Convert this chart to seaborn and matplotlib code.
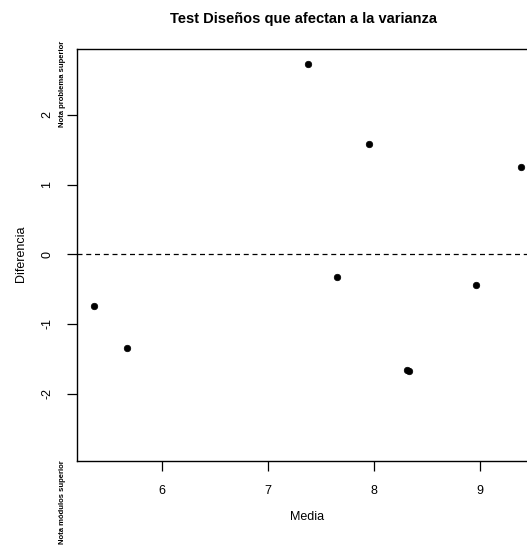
import matplotlib
matplotlib.use("Agg")
import matplotlib.pyplot as plt
import seaborn as sns
import pandas as pd

# values
media = [5.364, 5.670, 7.380, 7.657, 7.953, 8.320, 8.330, 8.965, 9.390]
diferencia = [-0.742, -1.349, 2.730, -0.326, 1.587, -1.660, -1.668, -0.436, 1.252]
xticks = [6, 7, 8, 9]
yticks = [-2, -1, 0, 1, 2]
label_top = "Nota problema superior"
label_bottom = "Nota módulos superior"

sns.set_style("white")
plt.rcParams["font.family"] = ["Liberation Sans", "DejaVu Sans"]
plt.rcParams["text.color"] = "black"

df = pd.DataFrame({"Media": media, "Diferencia": diferencia})

fig = plt.figure(figsize=(5.27, 5.46), dpi=100)
ax = fig.add_axes([77/527, 1-461/546, (538-77)/527, (461-49)/546])

sns.scatterplot(data=df, x="Media", y="Diferencia", ax=ax, color="black",
                s=22, edgecolor="black", linewidth=0.5)
ax.axhline(0, color="black", linestyle=(0, (4, 3)), linewidth=0.9)

ax.set_xlim(5.203, 9.551)
ax.set_ylim(-2.966, 2.945)
ax.set_xticks(xticks)
ax.set_yticks(yticks)
ax.set_yticklabels([str(v) for v in yticks], rotation=90, va="center")
ax.tick_params(direction="out", length=7, width=0.9, labelsize=9,
               color="black", labelcolor="black", left=True, bottom=True)
ax.tick_params(axis="x", pad=10)
ax.tick_params(axis="y", pad=10)
for sp in ax.spines.values():
    sp.set_color("black")
    sp.set_linewidth(1.0)
    sp.set_clip_on(False)

ax.set_xlabel("")
ax.set_ylabel("")
fig.text(307.5/527, 1-517/546, "Media", ha="center", va="center", fontsize=9)
fig.text(21/527, 1-254/546, "Diferencia", ha="center", va="center",
         rotation=90, fontsize=9)
fig.text(304/527, 1-18.5/546, "Test Diseños que afectan a la varianza",
         ha="center", va="center", fontsize=10.5, fontweight="bold")

fig.text(63/527, 1-83.5/546, label_top, ha="center", va="center",
         rotation=90, fontsize=5.5, fontweight="bold")
fig.text(62.5/527, 1-502.5/546, label_bottom, ha="center", va="center",
         rotation=90, fontsize=5.5, fontweight="bold")

fig.savefig("out.png", dpi=100)
